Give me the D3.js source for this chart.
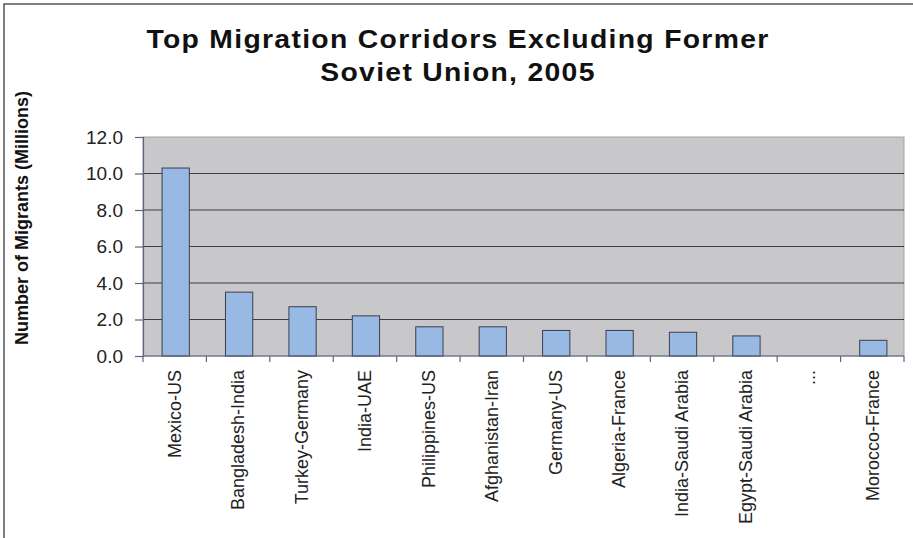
<!DOCTYPE html>
<html><head><meta charset="utf-8">
<script src="https://cdn.jsdelivr.net/npm/d3@7"></script>
<style>body{margin:0;background:#fff}</style>
</head><body>
<svg id="chart" width="913" height="538"></svg>
<script>
// Top migration corridors (millions of migrants), 2005
const corridors = ["Mexico-US","Bangladesh-India","Turkey-Germany","India-UAE","Philippines-US","Afghanistan-Iran","Germany-US","Algeria-France","India-Saudi Arabia","Egypt-Saudi Arabia","...","Morocco-France"];
const migrants = [10.3,3.5,2.7,2.2,1.6,1.6,1.4,1.4,1.3,1.1,null,0.86];
const yTicks = [0,2,4,6,8,10,12];
const titleLines = ["Top Migration Corridors Excluding Former","Soviet Union, 2005"];
const yLabel = "Number of Migrants (Millions)";

const svg = d3.select("#chart");
const FONT = "'Liberation Sans', Arial, sans-serif";
const plot = {left:143, right:904, top:137, bottom:356};

const x = d3.scaleBand().domain(corridors).range([plot.left, plot.right]).paddingInner(0).paddingOuter(0);
const y = d3.scaleLinear().domain([0,12]).range([plot.bottom, plot.top]);

// chart frame
svg.append("path").attr("d","M4,538V4H913").attr("fill","none").attr("stroke","#555").attr("stroke-width",1.5);

// plot background
svg.append("rect").attr("x",plot.left).attr("y",plot.top)
  .attr("width",plot.right-plot.left).attr("height",plot.bottom-plot.top)
  .attr("fill","#c8c8ca").attr("stroke","#a3a3a6").attr("stroke-width",1);

// horizontal gridlines
svg.append("g").selectAll("line").data(yTicks.filter(t=>t>0 && t<12)).join("line")
  .attr("x1",plot.left).attr("x2",plot.right)
  .attr("y1",d=>y(d)).attr("y2",d=>y(d))
  .attr("stroke","#3f3f3f").attr("stroke-width",1.2);

// bars
const bw = x.bandwidth()*0.43;
svg.append("g").selectAll("rect").data(corridors.map((c,i)=>({c,v:migrants[i]})).filter(d=>d.v!=null)).join("rect")
  .attr("x",d=>x(d.c)+(x.bandwidth()-bw)/2+1)
  .attr("y",d=>y(d.v))
  .attr("width",bw)
  .attr("height",d=>plot.bottom-y(d.v))
  .attr("fill","#98b9e3").attr("stroke","#3b3e4f").attr("stroke-width",1);

// y axis
const yAxis = svg.append("g").attr("transform",`translate(${plot.left},0)`)
  .call(d3.axisLeft(y).tickValues(yTicks).tickSize(8).tickFormat(""));
yAxis.select(".domain").attr("stroke","#5a6580").attr("stroke-width",1.2);
yAxis.selectAll(".tick line").attr("stroke","#5a6580").attr("stroke-width",1.2);

svg.append("g").selectAll("text").data(yTicks).join("text")
  .attr("x",123).attr("y",d=>y(d)).attr("dy","0.36em")
  .attr("text-anchor","end")
  .attr("font-family",FONT).attr("font-size",19).attr("fill","#222")
  .text(d3.format(".1f"));

// x axis: ticks on category boundaries
const bounds = corridors.map(c=>x(c)).concat([plot.right]);
svg.append("line").attr("x1",plot.left).attr("x2",plot.right)
  .attr("y1",plot.bottom).attr("y2",plot.bottom)
  .attr("stroke","#5a6580").attr("stroke-width",1.2);
svg.append("g").selectAll("line").data(bounds).join("line")
  .attr("x1",d=>d).attr("x2",d=>d)
  .attr("y1",plot.bottom).attr("y2",plot.bottom+6)
  .attr("stroke","#5a6580").attr("stroke-width",1.2);

svg.append("g").selectAll("text").data(corridors).join("text")
  .attr("transform",d=>`translate(${x(d)+x.bandwidth()/2},370) rotate(-90)`)
  .attr("text-anchor","end").attr("dy","0.35em")
  .attr("font-family",FONT).attr("font-size",18).attr("fill","#222")
  .text(d=>d);

// y axis title
svg.append("text")
  .attr("transform","translate(22,218) rotate(-90)")
  .attr("text-anchor","middle").attr("dy","0.35em")
  .attr("font-family",FONT).attr("font-size",18).attr("font-weight","bold").attr("fill","#111")
  .text(yLabel);

// chart title
svg.append("g").selectAll("text").data(titleLines).join("text")
  .attr("transform",(d,i)=>`translate(458,${48+i*33}) scale(1.09,1)`)
  .attr("text-anchor","middle")
  .attr("font-family",FONT).attr("font-size",26).attr("font-weight","bold")
  .attr("letter-spacing",1.2).attr("fill","#111")
  .text(d=>d);
</script>
</body></html>
